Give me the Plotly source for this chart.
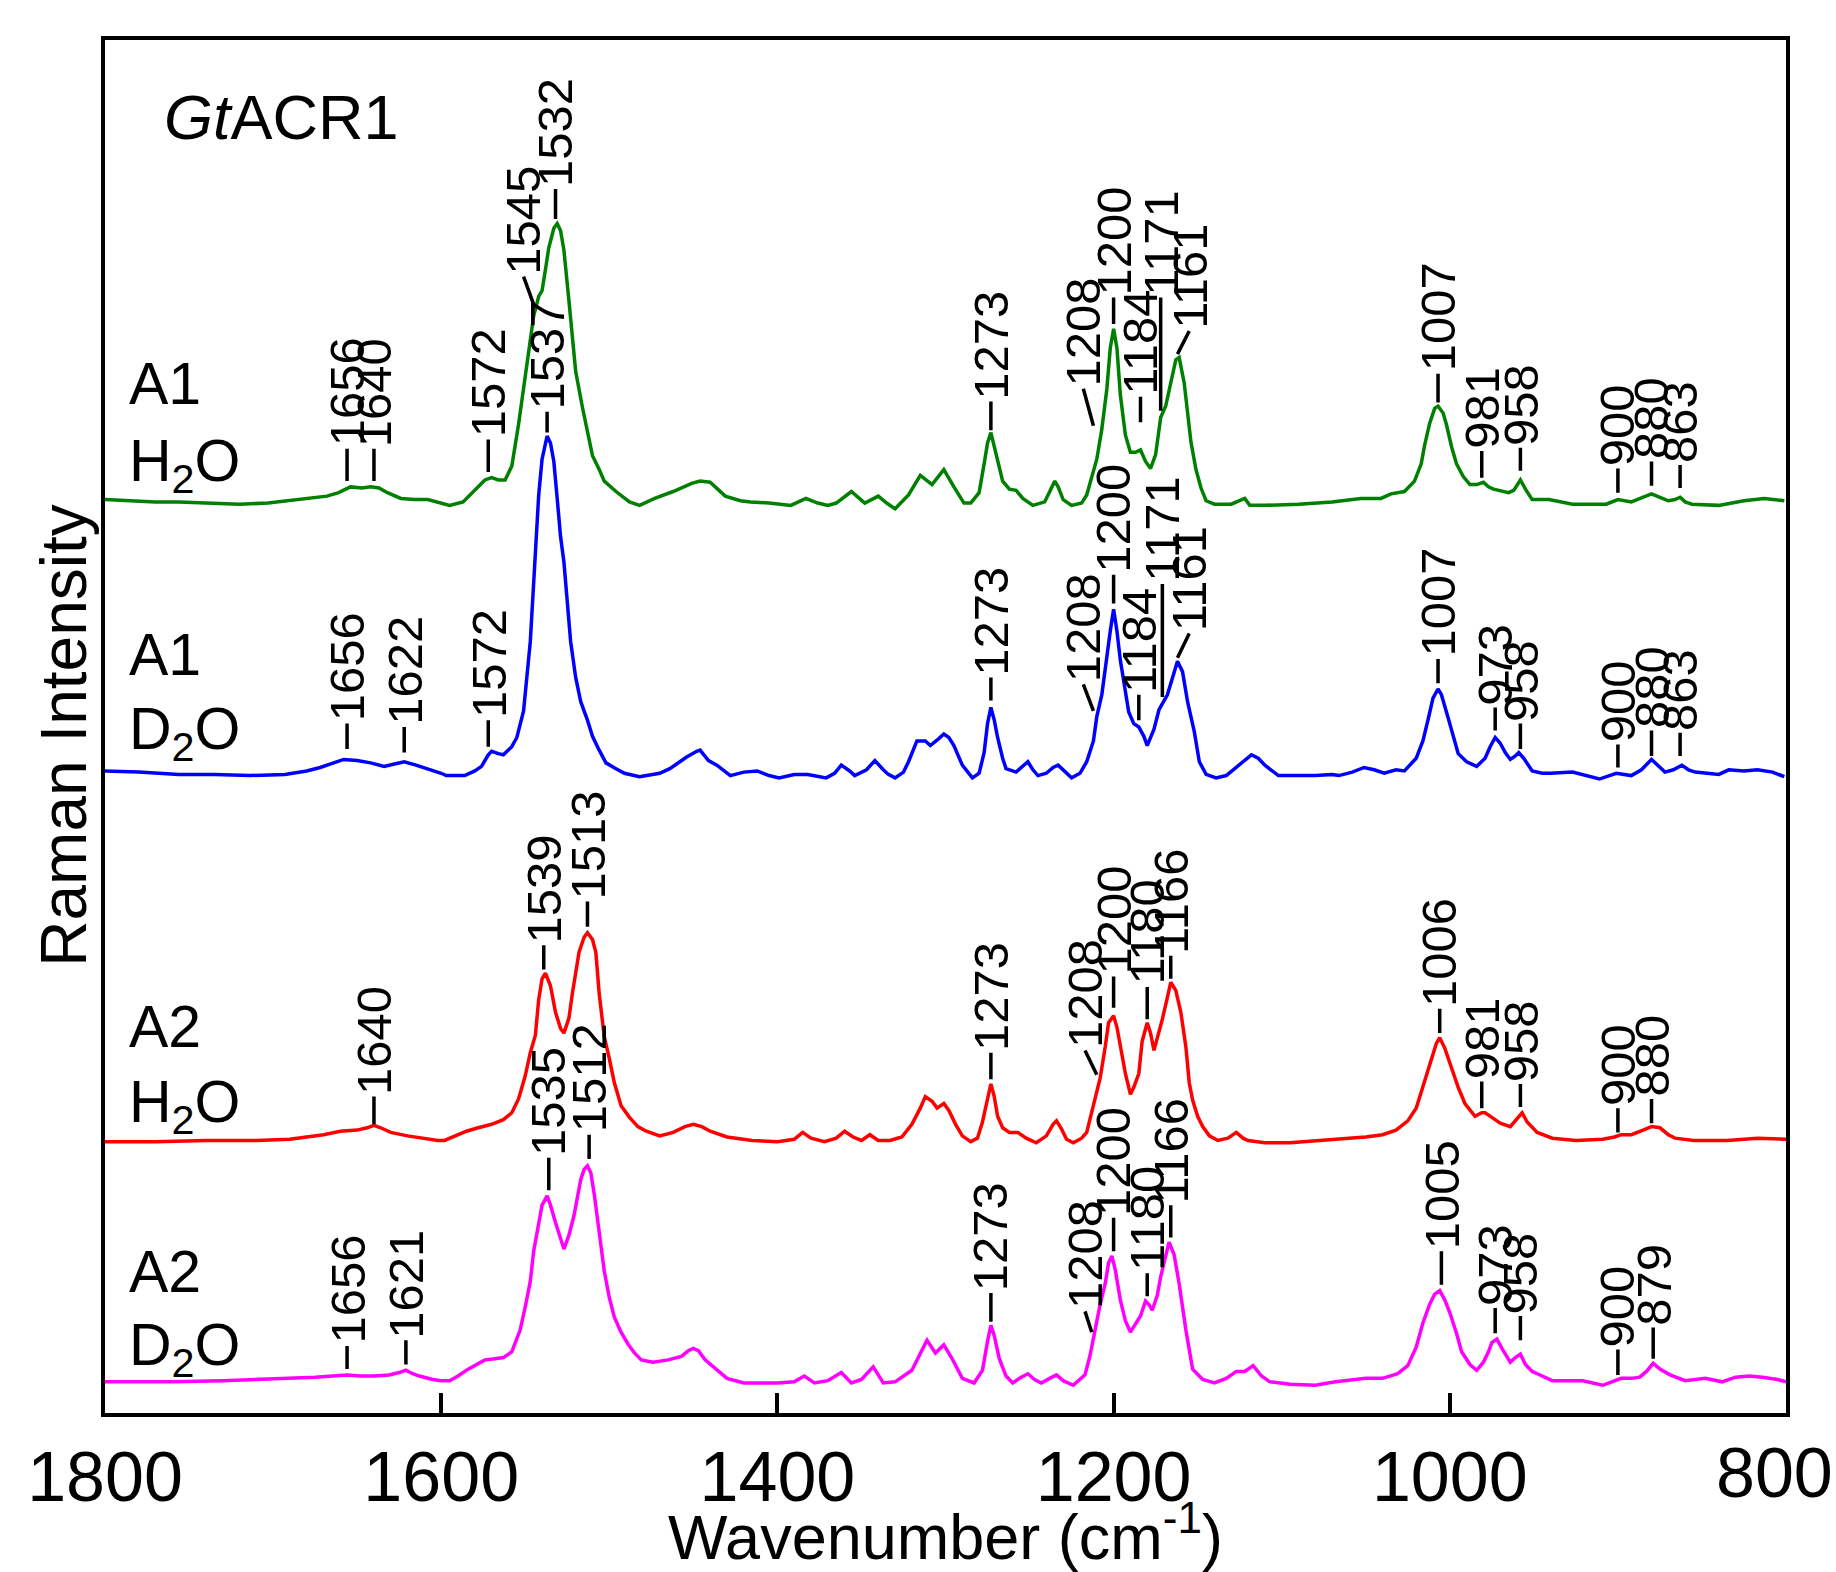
import plotly.graph_objects as go

# ---------------- data (wavenumber, relative Raman intensity) ----------------
GREEN_PTS = [(1800,3),(1785,2),(1770,1),(1756,1),(1740,0),(1720,-1),(1703,0),(1690,2),(1677,4),(1668,6),(1661,9),(1654,14),(1647,13),(1642,14),(1637,13),(1632,9),(1624,4),(1616,3),(1608,3),(1600,0),(1595,-2),(1587,1),(1579,13),(1574,20),(1570,22),(1566,20),(1562,20),(1558,32),(1554,68),(1551,99),(1548,129),(1545,162),(1542,179),(1540,184),(1538,202),(1536,221),(1533,238),(1531,242),(1529,236),(1527,219),(1524,175),(1520,114),(1516,83),(1513,62),(1510,41),(1506,29),(1503,19),(1496,10),(1488,1),(1482,-2),(1473,4),(1462,10),(1455,14),(1451,17),(1446,19),(1440,18),(1431,6),(1422,2),(1416,1),(1405,0),(1392,-2),(1383,4),(1376,0),(1370,-2),(1365,0),(1356,10),(1348,0),(1340,6),(1335,0),(1330,-5),(1322,7),(1315,24),(1308,16),(1301,29),(1295,14),(1289,0),(1285,0),(1280,9),(1277,34),(1275,52),(1273,61),(1271,49),(1269,34),(1266,19),(1262,12),(1258,11),(1254,4),(1248,-2),(1241,1),(1237,12),(1235,19),(1233,14),(1230,3),(1225,-2),(1219,0),(1216,7),(1213,22),(1210,38),(1207,64),(1204,99),(1202,134),(1200,151),(1198,134),(1196,94),(1193,59),(1190,44),(1187,44),(1184,46),(1181,36),(1178,30),(1175,42),(1172,74),(1169,84),(1166,104),(1163,124),(1161,126),(1158,104),(1154,53),(1151,29),(1148,13),(1145,2),(1140,-1),(1130,-1),(1122,4),(1119,-2),(1110,-2),(1090,-1),(1070,1),(1053,4),(1041,4),(1035,8),(1027,10),(1021,19),(1017,34),(1015,50),(1012,69),(1009,82),(1007,84),(1004,78),(1002,68),(999,49),(996,34),(992,23),(988,16),(984,16),(980,18),(977,14),(974,12),(969,10),(965,9),(962,11),(958,20),(955,12),(951,3),(941,3),(927,-1),(907,-1),(900,3),(892,1),(885,5),(880,8),(875,5),(870,2),(866,3),(863,5),(860,1),(856,-1),(840,-2),(825,2),(813,4),(801,2)]

BLUE_PTS = [(1800,2),(1780,1),(1756,-1),(1735,-1),(1714,-2),(1693,-1),(1680,2),(1672,5),(1664,9),(1658,12),(1650,11),(1642,9),(1634,6),(1628,8),(1622,10),(1615,7),(1608,4),(1600,0),(1597,-2),(1586,-2),(1580,2),(1576,6),(1572,16),(1570,19),(1566,17),(1563,16),(1558,23),(1555,31),(1551,54),(1547,114),(1544,190),(1542,241),(1540,272),(1538,288),(1537,292),(1535,286),(1533,270),(1531,238),(1529,205),(1527,183),(1525,148),(1523,114),(1520,83),(1517,62),(1513,46),(1510,32),(1506,20),(1502,9),(1496,4),(1491,0),(1482,-3),(1470,0),(1464,4),(1454,14),(1448,19),(1446,20),(1441,11),(1436,7),(1428,-2),(1420,1),(1412,2),(1405,-2),(1399,-4),(1390,-1),(1382,-1),(1371,-4),(1366,0),(1362,7),(1357,2),(1354,-2),(1347,3),(1342,11),(1337,3),(1334,-1),(1330,-4),(1325,1),(1322,10),(1317,28),(1312,28),(1309,24),(1304,30),(1301,34),(1298,31),(1295,24),(1290,7),(1284,-4),(1280,0),(1277,18),(1275,43),(1273,57),(1271,46),(1269,31),(1266,13),(1264,4),(1258,1),(1254,6),(1251,10),(1248,3),(1245,-2),(1240,0),(1236,5),(1233,7),(1229,1),(1225,-4),(1220,0),(1216,10),(1212,28),(1210,49),(1207,68),(1205,92),(1202,123),(1200,142),(1198,123),(1196,98),(1193,68),(1191,53),(1188,43),(1185,40),(1182,32),(1180,24),(1176,38),(1173,55),(1168,68),(1165,83),(1162,97),(1159,88),(1156,62),(1152,36),(1149,10),(1145,-1),(1139,-4),(1133,-2),(1128,4),(1122,11),(1118,16),(1114,13),(1110,7),(1102,-2),(1090,-2),(1080,-2),(1070,-1),(1066,-2),(1058,1),(1051,5),(1045,3),(1039,0),(1032,3),(1027,2),(1020,13),(1016,28),(1013,46),(1010,65),(1007,73),(1005,68),(1001,48),(998,32),(995,17),(990,10),(984,6),(979,13),(976,23),(973,31),(970,26),(967,18),(964,12),(961,15),(959,18),(956,13),(951,2),(945,0),(940,0),(927,1),(918,-2),(911,-5),(905,-2),(901,0),(892,-2),(886,3),(880,12),(876,6),(872,1),(867,3),(862,7),(858,3),(854,1),(840,-1),(834,3),(825,2),(817,3),(808,1),(801,-3)]

RED_PTS = [(1800,-1),(1770,-1),(1740,0),(1710,0),(1690,1),(1680,3),(1670,5),(1660,8),(1650,9),(1644,11),(1640,13),(1636,11),(1630,7),(1620,4),(1610,2),(1602,0),(1598,0),(1592,4),(1585,8),(1578,11),(1570,14),(1563,18),(1558,24),(1554,36),(1550,56),(1547,76),(1544,91),(1542,122),(1540,140),(1538,145),(1535,134),(1532,111),(1529,97),(1527,93),(1524,106),(1522,127),(1518,163),(1515,176),(1513,180),(1510,174),(1508,163),(1506,127),(1503,90),(1500,71),(1497,50),(1493,30),(1488,20),(1483,12),(1478,8),(1470,4),(1462,7),(1455,12),(1450,14),(1445,12),(1440,8),(1430,3),(1415,0),(1400,-1),(1390,1),(1385,7),(1380,2),(1372,-1),(1365,2),(1360,8),(1355,3),(1350,0),(1345,5),(1340,0),(1333,0),(1326,3),(1320,14),(1315,28),(1312,38),(1308,34),(1305,28),(1301,32),(1298,26),(1294,14),(1290,4),(1285,-1),(1281,2),(1278,16),(1275,38),(1273,49),(1271,38),(1269,21),(1266,11),(1262,7),(1257,7),(1252,2),(1246,-2),(1240,4),(1236,14),(1234,17),(1231,10),(1228,1),(1224,-2),(1219,2),(1216,7),(1213,24),(1211,38),(1208,54),(1205,81),(1203,102),(1200,108),(1198,98),(1196,82),(1193,58),(1190,40),(1188,46),(1185,58),(1183,86),(1180,102),(1178,93),(1176,78),(1174,88),(1171,105),(1168,124),(1166,137),(1163,130),(1160,111),(1157,81),(1155,50),(1153,35),(1150,21),(1147,12),(1143,4),(1138,0),(1132,2),(1127,7),(1123,2),(1120,0),(1110,-2),(1095,-2),(1080,0),(1071,1),(1060,2),(1050,3),(1040,5),(1032,9),(1025,17),(1020,28),(1016,46),(1012,66),(1008,84),(1006,89),(1003,80),(999,63),(995,46),(991,32),(985,21),(981,24),(979,24),(975,20),(970,15),(964,12),(960,19),(957,24),(954,16),(948,7),(939,2),(925,0),(909,1),(902,3),(898,5),(892,5),(885,9),(880,12),(875,11),(870,5),(866,2),(855,0),(835,0),(817,2),(800,1)]

MAGENTA_PTS = [(1800,0),(1760,0),(1730,1),(1710,2),(1691,3),(1675,4),(1656,6),(1648,5),(1640,5),(1631,6),(1625,8),(1621,10),(1617,7),(1613,5),(1605,2),(1600,1),(1595,1),(1590,5),(1584,11),(1578,16),(1574,19),(1568,20),(1563,21),(1558,26),(1556,33),(1553,45),(1550,65),(1547,87),(1545,113),(1542,138),(1540,153),(1537,161),(1535,153),(1532,138),(1529,125),(1527,115),(1524,127),(1521,144),(1517,175),(1515,184),(1513,187),(1511,181),(1509,163),(1506,130),(1503,96),(1500,73),(1497,56),(1493,43),(1489,33),(1485,25),(1481,19),(1474,17),(1465,19),(1457,22),(1453,27),(1450,29),(1447,27),(1443,19),(1438,13),(1430,3),(1420,-1),(1400,-1),(1390,0),(1384,5),(1378,-1),(1370,1),(1362,8),(1356,-1),(1350,2),(1343,13),(1337,-1),(1330,0),(1320,10),(1315,25),(1311,36),(1306,25),(1301,32),(1296,20),(1290,3),(1283,-1),(1278,10),(1275,35),(1273,49),(1271,40),(1268,20),(1264,5),(1260,-1),(1255,4),(1251,7),(1247,2),(1243,-1),(1238,3),(1234,6),(1230,1),(1224,-3),(1217,6),(1214,23),(1211,45),(1208,67),(1205,85),(1203,103),(1201,109),(1199,97),(1196,71),(1193,53),(1190,43),(1187,50),(1184,57),(1181,70),(1179,67),(1177,62),(1174,75),(1172,91),(1169,110),(1167,121),(1164,110),(1161,85),(1157,45),(1153,11),(1147,2),(1140,-1),(1133,3),(1127,9),(1122,9),(1117,14),(1112,5),(1107,0),(1095,-2),(1080,-3),(1068,0),(1050,3),(1040,3),(1031,7),(1025,14),(1020,30),(1016,51),(1012,67),(1009,76),(1006,79),(1003,71),(1000,60),(996,42),(993,26),(988,15),(984,10),(980,17),(977,26),(975,34),(972,37),(969,29),(966,21),(964,17),(961,21),(958,24),(955,15),(951,9),(948,7),(939,1),(930,1),(921,1),(909,-3),(903,0),(898,3),(892,3),(887,4),(883,9),(879,16),(875,11),(869,6),(860,1),(848,3),(838,0),(830,4),(822,5),(814,4),(805,2),(800,0)]

# vertical offsets of the stacked spectra
OFFSETS = {"A1_H2O": 788, "A1_D2O": 554, "A2_H2O": 236, "A2_D2O": 27}

# peak labels
PEAKS = {
    "A1_H2O": ["1656", "1640", "1572", "1545", "1532", "1273", "1208", "1200", "1184", "1171", "1161", "1007", "981", "958", "900", "880", "863"],
    "A1_D2O": ["1656", "1622", "1572", "1537", "1273", "1208", "1200", "1184", "1171", "1161", "1007", "973", "958", "900", "880", "863"],
    "A2_H2O": ["1640", "1539", "1513", "1273", "1208", "1200", "1180", "1166", "1006", "981", "958", "900", "880"],
    "A2_D2O": ["1656", "1621", "1535", "1512", "1273", "1208", "1200", "1180", "1166", "1005", "973", "958", "900", "879"],
}

# label leader placement (tip wn, tip height, text wn, text height) -- layout only
LEADERS = {
    "A1_H2O": [(1656,19,1656,47),(1640,19,1640,47),(1572,27,1572,55),(1545,172,1551,196),(1532,246,1532,272),
               (1273,63,1273,88),(1212,67,1218,99),(1200,155,1200,178),(1184,70,1184,92),(1172,80,1172,178),
               (1162,129,1155,149),(1007,87,1007,112),(981,22,981,45),(958,28,958,48),(900,9,900,30),
               (880,15,880,36),(863,13,863,33)],
    "A1_D2O": [(1656,21,1656,43),(1622,18,1622,40),(1572,23,1572,46),(1537,295,1537,313),(1273,63,1273,83),
               (1212,54,1218,77),(1200,147,1200,172),(1185,46,1185,68),(1171,66,1171,164),(1162,100,1155,121),
               (1007,78,1007,99),(973,37,973,57),(958,21,958,43),(900,5,900,25),(880,15,880,37),(863,15,863,35)],
    "A2_H2O": [(1640,14,1640,38),(1539,148,1539,169),(1513,185,1513,207),(1273,53,1273,76),(1210,57,1217,78),
               (1200,115,1200,142),(1180,105,1180,133),(1166,140,1166,160),(1006,93,1006,114),(981,28,981,51),
               (958,29,958,49),(900,7,900,28),(880,15,880,36)],
    "A2_D2O": [(1656,11,1656,31),(1621,15,1621,36),(1536,166,1536,194),(1512,193,1512,214),(1273,52,1273,77),
               (1213,43,1217,61),(1200,113,1200,142),(1180,74,1180,94),(1166,125,1166,153),(1005,84,1005,113),
               (973,42,973,64),(958,36,958,57),(900,6,900,28),(879,20,879,47)],
}

SERIES = [("A1_H2O", GREEN_PTS, "#008000"), ("A1_D2O", BLUE_PTS, "#0000ff"),
          ("A2_H2O", RED_PTS, "#ff0000"), ("A2_D2O", MAGENTA_PTS, "#ff00ff")]

SAMPLE_TEXT = [("A1", 891), ("H<sub>2</sub>O", 821), ("A1", 656), ("D<sub>2</sub>O", 589),
               ("A2", 334), ("H<sub>2</sub>O", 266), ("A2", 122), ("D<sub>2</sub>O", 55)]

X_TICKS = [1800, 1600, 1400, 1200, 1000, 800]

FONT = "Liberation Sans, Arial, Helvetica, sans-serif"
TICK_SIZE = 70

fig = go.Figure()
for key, pts, color in SERIES:
    off = OFFSETS[key]
    fig.add_trace(go.Scatter(
        x=[p[0] for p in pts], y=[p[1] + off for p in pts], mode="lines",
        line=dict(color=color, width=3.5), showlegend=False, hoverinfo="skip"))

for key, _, _ in SERIES:
    off = OFFSETS[key]
    for label, (tx, th, ax, ah) in zip(PEAKS[key], LEADERS[key]):
        fig.add_annotation(
            x=tx, y=off + th, ax=ax, ay=off + ah, xref="x", yref="y", axref="x", ayref="y",
            text=label, textangle=-90, showarrow=True, arrowhead=0, arrowwidth=3.5,
            arrowcolor="black", standoff=0, startstandoff=0,
            xanchor="left", yanchor="middle", borderpad=1,
            font=dict(family=FONT, size=49, color="black"))

for txt, yy in SAMPLE_TEXT:
    fig.add_annotation(x=1787, y=yy, xref="x", yref="y", text=txt, showarrow=False,
                       xanchor="left", yanchor="middle",
                       font=dict(family=FONT, size=59, color="black"))

fig.add_annotation(x=1766, y=1122, xref="x", yref="y", text="<i>Gt</i>ACR1", showarrow=False,
                   xanchor="left", yanchor="middle", font=dict(family=FONT, size=63, color="black"))

# y-axis title
fig.add_annotation(x=(64 - 105) / 1681, y=0.4933, xref="paper", yref="paper", text="Raman Intensity",
                   textangle=-90, showarrow=False, xanchor="center", yanchor="middle",
                   font=dict(family=FONT, size=64, color="black"))

# last tick label (right edge) drawn as annotation so it is not hidden at the page edge
fig.add_annotation(x=X_TICKS[-1], y=0, xref="x", yref="paper", text=str(X_TICKS[-1]), showarrow=False,
                   xanchor="center", yanchor="top", xshift=-12, yshift=-19,
                   font=dict(family=FONT, size=TICK_SIZE, color="black"))

fig.update_layout(
    width=1836, height=1572,
    margin=dict(l=105, r=50, t=40, b=141),
    paper_bgcolor="white", plot_bgcolor="white",
    font=dict(family=FONT, color="black"),
    showlegend=False,
)
fig.update_xaxes(
    range=[1800, 800], tickvals=X_TICKS,
    ticktext=[str(v) for v in X_TICKS[:-1]] + [""],
    ticks="inside", ticklen=20, tickwidth=3.5, tickcolor="black",
    tickfont=dict(size=TICK_SIZE, family=FONT, color="black"),
    showline=True, linewidth=4, linecolor="black", mirror=True,
    showgrid=False, zeroline=False,
    title=dict(text="Wavenumber (cm<sup>-1</sup>)", font=dict(size=63, family=FONT, color="black"), standoff=0),
)
fig.update_yaxes(
    range=[0, 1189], showticklabels=False, ticks="",
    showline=True, linewidth=4, linecolor="black", mirror=True,
    showgrid=False, zeroline=False,
)

fig.write_html("out.html")
